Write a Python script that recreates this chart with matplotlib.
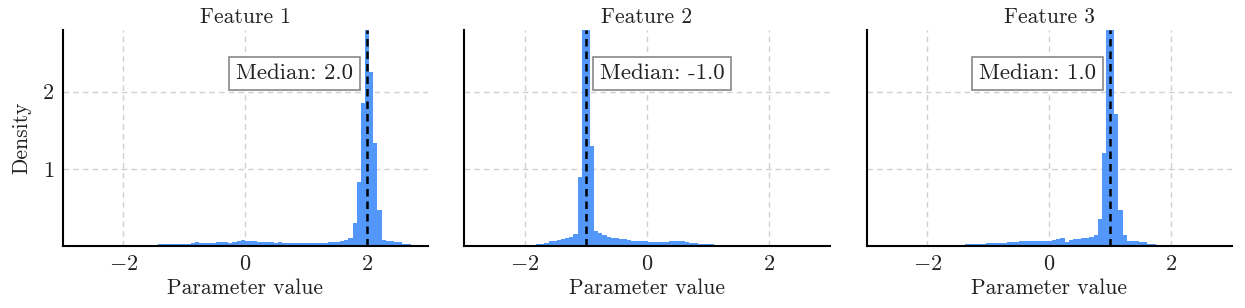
import numpy as np
import matplotlib
matplotlib.use("Agg")
import matplotlib.pyplot as plt

plt.rcParams['font.family'] = ['cmr10', 'DejaVu Serif']
plt.rcParams['mathtext.fontset'] = 'cm'
plt.rcParams['axes.formatter.use_mathtext'] = True
plt.rcParams['axes.unicode_minus'] = True

titles = ["Feature 1", "Feature 2", "Feature 3"]
medians = [2.0, -1.0, 1.0]
bin_width = 0.068

# Panel 1: bin centres = median + k*w, k from -57..12
p1_first_k = -57
p1_heights = [
    0.005, 0.008, 0.010, 0.010, 0.012, 0.015, 0.015, 0.020,
    0.020, 0.022, 0.025, 0.025, 0.028, 0.030, 0.030, 0.035, 0.055, 0.045,
    0.040, 0.040, 0.045, 0.050, 0.050, 0.048, 0.045, 0.050, 0.060, 0.075,
    0.070, 0.060, 0.060, 0.055, 0.058, 0.050, 0.050, 0.045, 0.048, 0.045,
    0.040, 0.045, 0.040, 0.035, 0.040, 0.038, 0.040, 0.042, 0.045, 0.045,
    0.050, 0.050, 0.055, 0.060, 0.075, 0.100, 0.300, 0.830, 1.860,
    3.300,
    2.260, 1.340, 0.470, 0.080, 0.060, 0.060, 0.050, 0.050, 0.030, 0.020, 0.010, 0.005,
]

# Panel 2: bin left edges = median + k*w, k from -14..
p2_first_k = -14
p2_heights = [
    0.005, 0.010, 0.020, 0.030, 0.040, 0.060, 0.070, 0.080, 0.090, 0.100,
    0.120, 0.160, 0.900, 3.000,
    3.300, 1.300, 0.200, 0.170, 0.140, 0.120, 0.110, 0.100, 0.090, 0.085,
    0.080, 0.070, 0.065, 0.060, 0.060, 0.055, 0.050, 0.050, 0.050, 0.055,
    0.060, 0.065, 0.070, 0.060, 0.050, 0.040, 0.035, 0.030, 0.025, 0.022,
    0.020, 0.018, 0.015, 0.012, 0.010, 0.008, 0.006, 0.005, 0.004, 0.003,
    0.002, 0.002, 0.001,
]

# Panel 3: bin left edges = median + k*w, k from -42..
p3_first_k = -42
p3_heights = [
    0.003, 0.005, 0.008, 0.010, 0.012, 0.015, 0.018, 0.020, 0.022, 0.025,
    0.028, 0.030, 0.033, 0.036, 0.040, 0.042, 0.045, 0.048, 0.050, 0.055,
    0.060, 0.065, 0.060, 0.065, 0.065, 0.070, 0.065, 0.070, 0.080, 0.090,
    0.100, 0.050, 0.080, 0.085, 0.090, 0.100, 0.110, 0.120, 0.140, 0.350,
    1.200, 3.000,
    3.300, 1.710, 0.470, 0.140, 0.070, 0.060, 0.060, 0.050, 0.050, 0.030,
    0.030, 0.010, 0.005,
]

panels = [
    (p1_first_k, p1_heights, 0.0),   # centred bins
    (p2_first_k, p2_heights, 0.5),   # edge-aligned bins
    (p3_first_k, p3_heights, 0.5),
]

bar_color = '#4a92fb'
text_color = '#222222'

fig = plt.figure(figsize=(12.45, 3.08), dpi=100)
W, H = 1245, 308
lefts = [62.5, 464, 866.5]
axw = 365.5
top, bottom = 30, 246
axes = []
for i, l in enumerate(lefts):
    ax = fig.add_axes([l / W, 1 - bottom / H, axw / W, (bottom - top) / H],
                      sharey=axes[0] if axes else None)
    axes.append(ax)

for i, ax in enumerate(axes):
    first_k, heights, shift = panels[i]
    med = medians[i]
    ks = np.arange(first_k, first_k + len(heights))
    centres = med + (ks + shift) * bin_width
    ax.bar(centres, heights, width=bin_width, color=bar_color, alpha=0.95,
           linewidth=0, zorder=2)
    ax.axvline(med, color='black', linestyle=(0, (3, 2)), linewidth=1.8, zorder=3)
    ax.set_xlim(-3, 3)
    ax.set_ylim(0, 2.8)
    ax.set_xticks([-2, 0, 2])
    ax.set_yticks([1, 2])
    ax.grid(True, color='#d0d0d0', linestyle=(0, (4, 3)), linewidth=1.0, zorder=0)
    ax.set_axisbelow(True)
    for s in ['top', 'right']:
        ax.spines[s].set_visible(False)
    for s in ['left', 'bottom']:
        ax.spines[s].set_linewidth(1.5)
        ax.spines[s].set_color('black')
    ax.tick_params(length=0, labelsize=16, colors=text_color, pad=6)
    ax.set_title(titles[i], fontsize=15.5, color=text_color, pad=5)
    ax.set_xlabel("Parameter value", fontsize=15.5, color=text_color, labelpad=3)
    if i > 0:
        ax.tick_params(labelleft=False)
    label = f"Median: {med:.1f}"
    if med > 0:
        off, ha = -10, 'right'
    else:
        off, ha = 10, 'left'
    ax.annotate(label, xy=(med, 0.8), xycoords=('data', 'axes fraction'),
                xytext=(off, 0), textcoords='offset points', ha=ha, va='center',
                fontsize=16.5, color=text_color,
                bbox=dict(boxstyle='square,pad=0.3', facecolor='white',
                          edgecolor='#888888', linewidth=1.2), zorder=5)

axes[0].set_ylabel("Density", fontsize=15.5, color=text_color, labelpad=8)

fig.savefig("out.png", dpi=100)
